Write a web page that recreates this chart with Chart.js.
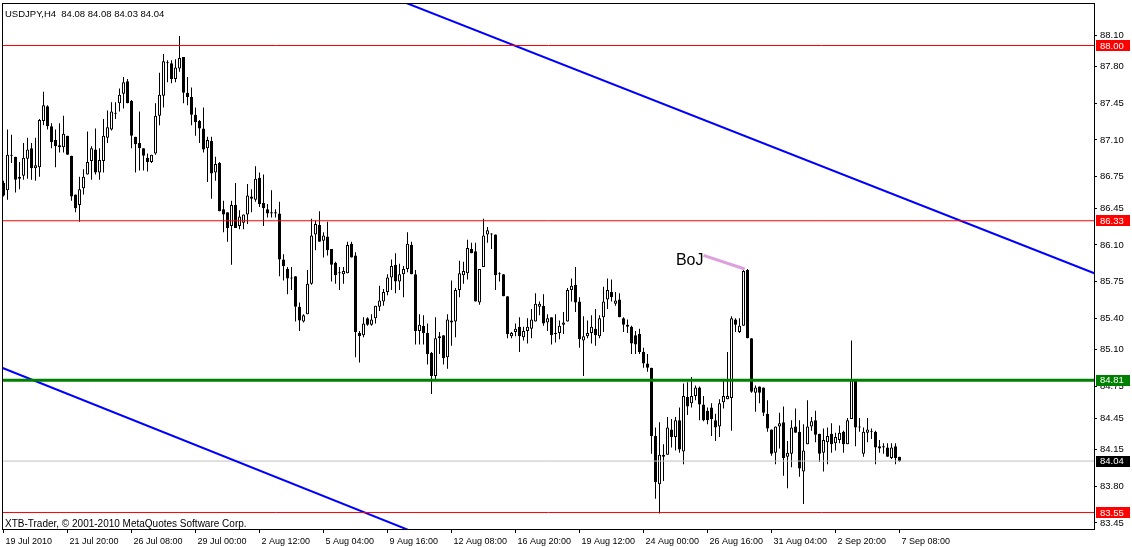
<!DOCTYPE html>
<html lang="en">
<head>
<meta charset="utf-8">
<title>USDJPY,H4</title>
<script src="https://cdn.jsdelivr.net/npm/chart.js@4.4.0/dist/chart.umd.min.js"></script>
<style>
    html, body { margin: 0; padding: 0; background: #fff; }
    canvas { display: block; }
</style>
</head>
<body>
<canvas id="usdjpyChart" width="1132" height="547"></canvas>

<script>
    /* Chart data: H4 candles read from the terminal window */
    const symbol = 'USDJPY';
    const period = 'H4';

    const opens = [86.69,86.62,86.96,86.94,86.73,86.76,86.92,87.02,86.83,86.84,87.28,87.42,87.23,87.10,87.05,87.03,87.14,86.95,86.58,86.48,
        86.64,86.77,86.90,87.01,86.79,86.90,87.12,87.20,87.36,87.45,87.54,87.66,87.47,87.13,87.07,87.02,86.93,86.89,86.97,87.33,
        87.52,87.83,87.83,87.68,87.78,87.89,87.55,87.51,87.34,87.28,87.21,87.02,87.09,86.79,86.88,86.44,86.41,86.28,86.48,86.28,
        86.31,86.39,86.56,86.53,86.74,86.50,86.44,86.41,86.41,86.40,85.96,85.87,85.79,85.80,85.51,85.37,85.44,85.73,86.20,86.29,
        86.14,86.18,86.06,85.93,85.83,85.82,85.83,86.11,86.00,85.26,85.24,85.40,85.34,85.40,85.51,85.56,85.65,85.79,85.91,85.75,
        85.82,85.87,86.10,85.82,85.28,85.33,85.26,85.07,84.85,85.23,85.24,85.03,85.38,85.37,85.67,85.81,85.83,86.06,86.04,85.55,
        85.89,86.20,86.20,86.20,85.83,85.82,85.61,85.23,85.27,85.32,85.22,85.28,85.30,85.37,85.51,85.52,85.36,85.41,85.26,85.26,
        85.34,85.37,85.67,85.72,85.56,85.19,85.23,85.26,85.30,85.23,85.41,85.58,85.65,85.54,85.58,85.40,85.32,85.32,85.24,85.25,
        85.08,84.97,84.93,84.28,83.82,84.08,84.10,84.34,84.27,84.43,84.13,84.65,84.59,84.66,84.74,84.58,84.52,84.55,84.43,84.37,
        84.60,84.63,84.64,85.39,85.27,85.33,85.86,85.21,84.69,84.75,84.74,84.49,84.34,84.12,84.37,84.41,84.08,84.11,84.37,84.32,
        83.94,84.20,84.37,84.43,84.30,84.12,84.22,84.30,84.21,84.24,84.32,84.20,84.44,84.82,84.37,84.11,84.31,84.33,84.32,84.18,
        84.18,84.17,84.07,84.18,84.08];
    const highs = [86.71,87.20,87.15,86.94,86.89,87.07,87.12,87.07,87.12,87.30,87.56,87.43,87.26,87.20,87.26,87.33,87.14,86.95,86.58,86.75,
        86.82,87.18,87.04,87.21,87.02,87.30,87.38,87.46,87.46,87.59,87.70,87.68,87.48,87.13,87.37,87.02,86.97,86.96,87.45,87.74,
        87.92,87.86,87.86,87.87,88.09,87.89,87.70,87.60,87.41,87.29,87.41,87.13,87.13,86.94,86.89,86.52,86.41,86.52,86.69,86.43,
        86.39,86.68,86.63,86.85,86.79,86.77,86.49,86.62,86.44,86.51,86.01,85.89,85.89,85.80,85.55,85.44,85.86,86.35,86.33,86.42,
        86.22,86.32,86.06,85.94,85.89,85.89,86.13,86.13,86.03,85.28,85.41,85.41,85.44,85.52,85.71,85.68,85.82,85.96,86.02,85.92,
        85.90,86.22,86.13,85.86,85.44,85.43,85.35,85.08,85.41,85.27,85.24,85.44,85.76,85.69,85.95,85.94,86.15,86.12,86.12,85.87,
        86.35,86.27,86.21,86.20,85.84,85.82,85.61,85.27,85.35,85.41,85.32,85.40,85.49,85.64,85.56,85.63,85.44,85.41,85.44,85.38,
        85.46,85.69,85.78,85.89,85.60,85.42,85.38,85.43,85.49,85.43,85.70,85.78,85.77,85.65,85.64,85.41,85.39,85.33,85.28,85.30,
        85.12,85.06,84.93,84.36,84.41,84.20,84.46,84.44,84.46,84.55,84.78,84.79,84.84,84.76,84.75,84.66,84.55,84.59,84.49,84.63,
        84.80,85.08,85.42,85.40,85.40,85.87,85.87,85.21,84.76,84.75,84.74,84.62,84.34,84.37,84.50,84.56,84.23,84.43,84.54,84.43,
        84.39,84.62,84.46,84.52,84.30,84.35,84.36,84.40,84.31,84.38,84.33,84.45,85.19,84.82,84.45,84.36,84.45,84.35,84.33,84.24,
        84.21,84.21,84.21,84.21,84.08];
    const lows = [86.56,86.53,86.88,86.60,86.63,86.72,86.73,86.72,86.71,86.75,87.24,87.20,87.02,86.84,86.98,86.98,86.96,86.52,86.41,86.32,
        86.58,86.77,86.72,86.77,86.72,86.79,87.07,87.19,87.30,87.37,87.40,87.45,87.02,86.79,86.81,86.81,86.80,86.88,86.96,87.24,
        87.41,87.65,87.64,87.65,87.75,87.45,87.43,87.24,87.14,87.07,86.98,86.70,86.54,86.71,86.42,86.22,86.13,85.91,86.26,86.25,
        86.25,86.30,86.41,86.51,86.46,86.28,86.36,86.36,86.36,85.80,85.76,85.63,85.67,85.37,85.28,85.36,85.44,85.72,86.05,86.13,
        85.98,86.00,85.75,85.73,85.67,85.73,85.83,85.98,85.03,84.98,85.22,85.33,85.33,85.35,85.47,85.52,85.62,85.67,85.64,85.67,
        85.60,85.84,85.82,85.15,85.15,85.15,84.96,84.68,84.81,85.06,84.96,84.92,85.14,85.22,85.60,85.73,85.77,86.02,85.56,85.53,
        85.89,86.12,86.06,85.67,85.75,85.61,85.21,85.21,85.23,85.08,85.19,85.16,85.21,85.37,85.43,85.33,85.28,85.15,85.17,85.20,
        85.25,85.37,85.56,85.46,85.12,84.85,85.21,85.16,85.14,85.21,85.27,85.49,85.56,85.52,85.41,85.27,85.26,85.06,85.06,85.06,
        84.93,84.89,84.11,83.68,83.54,83.85,84.10,84.17,84.14,84.12,84.01,84.48,84.55,84.62,84.43,84.42,84.39,84.28,84.23,84.27,
        84.54,84.63,84.33,85.27,85.26,85.33,85.21,84.69,84.51,84.59,84.47,84.32,84.09,84.01,84.16,83.90,83.78,83.98,84.31,83.89,
        83.63,84.20,84.33,84.22,84.03,83.94,84.01,84.12,84.14,84.21,84.12,84.20,84.44,84.18,84.32,84.08,84.22,84.25,84.01,84.12,
        84.11,84.08,84.06,84.01,84.03];
    const closes = [86.57,86.96,86.95,86.72,86.75,86.93,87.01,86.83,86.86,87.29,87.43,87.23,87.08,87.04,87.03,87.16,86.96,86.56,86.45,86.63,
        86.75,86.89,87.02,86.79,86.91,87.14,87.22,87.37,87.35,87.53,87.65,87.45,87.14,87.06,87.02,86.95,86.89,86.96,87.33,87.53,
        87.85,87.84,87.68,87.79,87.88,87.55,87.51,87.34,87.27,87.21,87.01,87.10,86.78,86.87,86.42,86.39,86.26,86.48,86.26,86.37,
        86.39,86.57,86.54,86.73,86.49,86.45,86.40,86.40,86.40,85.96,85.90,85.78,85.78,85.51,85.38,85.43,85.73,86.19,86.30,86.13,
        86.19,86.05,85.91,85.81,85.83,85.85,86.10,85.98,85.27,85.23,85.35,85.34,85.39,85.52,85.57,85.65,85.79,85.90,85.75,85.82,
        85.87,86.11,85.82,85.28,85.34,85.26,85.06,84.85,85.21,85.21,85.02,85.39,85.36,85.67,85.83,85.85,86.07,86.02,85.56,85.87,
        86.19,86.24,86.20,85.81,85.82,85.61,85.25,85.26,85.30,85.23,85.28,85.32,85.39,85.54,85.54,85.35,85.40,85.24,85.25,85.33,
        85.36,85.67,85.71,85.55,85.20,85.23,85.26,85.32,85.24,85.40,85.56,85.67,85.60,85.57,85.41,85.34,85.34,85.16,85.15,85.08,
        84.97,84.93,84.28,83.84,84.10,84.10,84.36,84.27,84.43,84.15,84.66,84.56,84.66,84.74,84.58,84.43,84.43,84.44,84.36,84.59,
        84.66,84.66,85.40,85.34,85.33,85.85,85.21,84.70,84.74,84.69,84.50,84.35,84.11,84.37,84.40,84.07,84.12,84.36,84.31,83.97,
        84.14,84.37,84.42,84.29,84.11,84.24,84.28,84.20,84.27,84.31,84.20,84.43,84.81,84.36,84.36,84.32,84.34,84.32,84.17,84.16,
        84.17,84.08,84.17,84.07,84.04];

    /* Axis labels */
    const priceTicks = [88.10, 87.80, 87.45, 87.10, 86.75, 86.45, 86.10, 85.75, 85.40, 85.10, 84.75, 84.45, 84.15, 83.80, 83.45];
    const dateTickBars = [0, 16, 32, 48, 64, 80, 96, 112, 128, 144, 160, 176, 192, 208, 224];
    const dateLabels = ['19 Jul 2010', '21 Jul 20:00', '26 Jul 08:00', '29 Jul 00:00', '2 Aug 12:00', '5 Aug 04:00',
        '9 Aug 16:00', '12 Aug 08:00', '16 Aug 20:00', '19 Aug 12:00', '24 Aug 00:00', '26 Aug 16:00',
        '31 Aug 04:00', '2 Sep 20:00', '7 Sep 08:00'];

    /* Drawn objects (bar index / price) */
    const redLevels = [88.00, 86.33, 83.55];
    const greenLevel = 84.81;
    const bidPrice = closes[closes.length - 1];
    const upperTrendBars = [95, 280];
    const upperTrendPrices = [88.49, 85.72];
    const lowerTrendBars = [-5, 110];
    const lowerTrendPrices = [85.00, 83.25];
    const bojBars = [175, 185.3];
    const bojPrices = [86.00, 85.87];
    const bojLabel = { bar: 168.1, price: 85.91, text: 'BoJ' };

    const FONT = '"Liberation Sans", Arial, sans-serif';
    Chart.defaults.font.family = FONT;
    Chart.defaults.color = '#000';

    const xMin = -0.125, xMax = 272.625;
    const yMin = 83.3926, yMax = 88.3955;

    function points(xs, ys) {
        return xs.map((x, i) => ({ x: x, y: ys[i] }));
    }
    function hLine(price) {
        return [{ x: xMin - 5, y: price }, { x: xMax + 5, y: price }];
    }
    function lineSet(data, color, width, order) {
        return {
            type: 'line', data: data, borderColor: color, borderWidth: width,
            pointRadius: 0, fill: false, tension: 0, order: order
        };
    }

    const wickData = highs.map((h, i) => ({ x: i, y: [lows[i], h] }));
    const bodyData = opens.map((o, i) => ({ x: i, y: [o, closes[i]] }));
    const bodyColors = opens.map((o, i) => closes[i] >= o ? '#ffffff' : '#000000');

    /* Frame, price boxes and text objects */
    const decorPlugin = {
        id: 'decor',
        beforeDraw(chart) {
            const ctx = chart.ctx;
            ctx.save();
            ctx.fillStyle = '#ffffff';
            ctx.fillRect(0, 0, chart.width, chart.height);
            ctx.restore();
        },
        afterDraw(chart) {
            const { ctx, chartArea: a, scales } = chart;
            const sx = scales.x, sy = scales.y;
            ctx.save();

            ctx.strokeStyle = '#000';
            ctx.lineWidth = 1;
            ctx.strokeRect(a.left - 0.5, a.top - 0.5, a.right - a.left + 1, a.bottom - a.top + 1);

            const boxes = redLevels.map(p => ({ p: p, fill: '#ff0000' }));
            boxes.push({ p: greenLevel, fill: '#008000' });
            boxes.push({ p: bidPrice, fill: '#000000' });
            ctx.font = '9.5px ' + FONT;
            ctx.textAlign = 'left';
            ctx.textBaseline = 'middle';
            boxes.forEach(b => {
                const py = sy.getPixelForValue(b.p);
                ctx.fillStyle = b.fill;
                ctx.fillRect(a.right + 2, Math.floor(py) - 5, 34, 11);
                ctx.fillStyle = '#ffffff';
                ctx.fillText(b.p.toFixed(2), a.right + 6, py + 0.5);
            });

            ctx.fillStyle = '#000';
            ctx.textBaseline = 'alphabetic';
            const last = opens.length - 1;
            ctx.font = '9.5px ' + FONT;
            ctx.fillText(symbol + ',' + period + '  ' + opens[last].toFixed(2) + ' ' + highs[last].toFixed(2) + ' ' +
                lows[last].toFixed(2) + ' ' + closes[last].toFixed(2), a.left + 2, 17);
            ctx.font = '10px ' + FONT;
            ctx.fillText('XTB-Trader, \u00a9 2001-2010 MetaQuotes Software Corp.', a.left + 2, a.bottom - 2);

            ctx.font = '16px ' + FONT;
            ctx.fillText(bojLabel.text, sx.getPixelForValue(bojLabel.bar), sy.getPixelForValue(bojLabel.price));
            ctx.restore();
        }
    };

    const ctx = document.getElementById('usdjpyChart').getContext('2d');
    const usdjpy = new Chart(ctx, {
        type: 'bar',
        data: {
            datasets: [
                lineSet(hLine(redLevels[0]), '#ff0000', 1, 0),
                lineSet(hLine(redLevels[1]), '#ff0000', 1, 0),
                lineSet(hLine(redLevels[2]), '#ff0000', 1, 0),
                lineSet(hLine(bidPrice), '#c0c0c0', 1, 1),
                lineSet(hLine(greenLevel), '#008000', 3, 0),
                lineSet(points(upperTrendBars, upperTrendPrices), '#0000ff', 2, 0),
                lineSet(points(lowerTrendBars, lowerTrendPrices), '#0000ff', 2, 0),
                lineSet(points(bojBars, bojPrices), '#dda0dd', 3, 0),
                {
                    label: 'bodies', data: bodyData, backgroundColor: bodyColors, borderColor: '#000000',
                    borderWidth: 1, borderSkipped: false, barThickness: 3, maxBarThickness: 3,
                    minBarLength: 1, grouped: false, inflateAmount: 0, order: 5
                },
                {
                    label: 'wicks', data: wickData, backgroundColor: '#000000', borderWidth: 0,
                    barThickness: 1, maxBarThickness: 1, minBarLength: 1, grouped: false,
                    inflateAmount: 0, order: 6
                }
            ]
        },
        options: {
            responsive: false,
            animation: false,
            devicePixelRatio: 1,
            events: [],
            layout: { padding: { left: 3, top: 4, right: 0, bottom: 0 } },
            plugins: { legend: { display: false }, tooltip: { enabled: false } },
            scales: {
                x: {
                    type: 'linear', min: xMin, max: xMax, offset: false,
                    afterBuildTicks: s => { s.ticks = dateTickBars.map(v => ({ value: v })); },
                    afterFit: s => { s.height = 18; s.paddingLeft = 0; s.paddingRight = 0; },
                    grid: { drawOnChartArea: false, drawTicks: true, tickLength: 4, color: '#000', offset: false },
                    border: { display: false },
                    ticks: {
                        autoSkip: false, maxRotation: 0, minRotation: 0, align: 'start', labelOffset: 2,
                        padding: 3, font: { size: 9 }, color: '#000',
                        callback: (value, index) => dateLabels[index]
                    }
                },
                y: {
                    type: 'linear', position: 'right', min: yMin, max: yMax,
                    afterBuildTicks: s => { s.ticks = priceTicks.map(v => ({ value: v })); },
                    afterFit: s => { s.width = 38; s.paddingTop = 0; s.paddingBottom = 0; },
                    grid: { drawOnChartArea: false, drawTicks: true, tickLength: 3, color: '#000' },
                    border: { display: false },
                    ticks: {
                        autoSkip: false, padding: 3, font: { size: 9.5 }, color: '#000',
                        callback: value => Number(value).toFixed(2)
                    }
                }
            }
        },
        plugins: [decorPlugin]
    });
</script>
</body>
</html>
